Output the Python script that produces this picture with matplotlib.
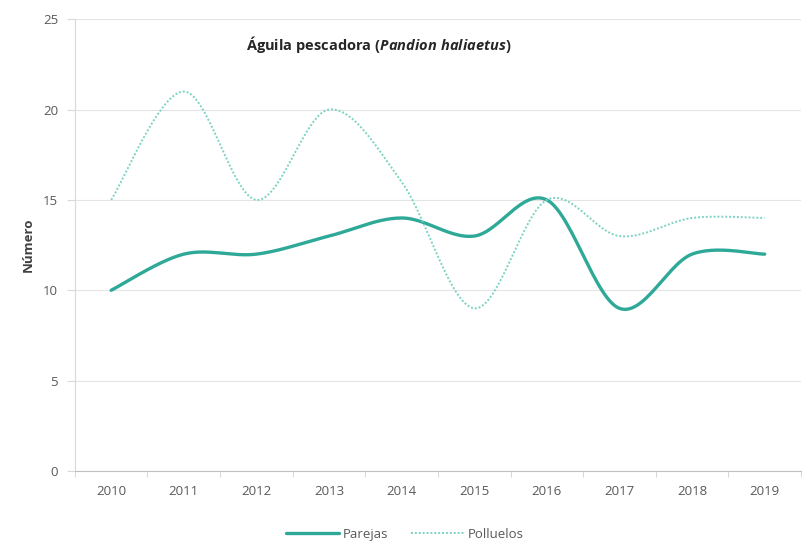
import matplotlib.pyplot as plt
import numpy as np

# Data
years = ['2010', '2011', '2012', '2013', '2014', '2015', '2016', '2017', '2018', '2019']
parejas = [10, 12, 12, 13, 14, 13, 15, 9, 12, 12]
polluelos = [15, 21, 15, 20, 16, 9, 15, 13, 14, 14]

plt.rcParams['font.family'] = ['Open Sans', 'DejaVu Sans']
plt.rcParams['mathtext.fontset'] = 'custom'
plt.rcParams['mathtext.bfit'] = 'Open Sans:bold:italic'
plt.rcParams['mathtext.it'] = 'Open Sans:italic'
plt.rcParams['mathtext.rm'] = 'Open Sans'


def smooth(xs, ys, n=30):
    # Excel-style smoothed line: cubic Bezier through the points (Catmull-Rom tangents)
    xs = np.asarray(xs, float)
    ys = np.asarray(ys, float)
    px = np.concatenate([[xs[0]], xs, [xs[-1]]])
    py = np.concatenate([[ys[0]], ys, [ys[-1]]])
    out_x, out_y = [], []
    t = np.linspace(0, 1, n)
    for i in range(1, len(px) - 2):
        p0 = np.array([px[i], py[i]])
        p3 = np.array([px[i + 1], py[i + 1]])
        c1 = p0 + (np.array([px[i + 1], py[i + 1]]) - np.array([px[i - 1], py[i - 1]])) / 6
        c2 = p3 - (np.array([px[i + 2], py[i + 2]]) - np.array([px[i], py[i]])) / 6
        b = ((1 - t) ** 3)[:, None] * p0 + (3 * (1 - t) ** 2 * t)[:, None] * c1 \
            + (3 * (1 - t) * t ** 2)[:, None] * c2 + (t ** 3)[:, None] * p3
        out_x.extend(b[:, 0])
        out_y.extend(b[:, 1])
    return out_x, out_y


fig = plt.figure(figsize=(8.05, 5.48), dpi=100)
ax = fig.add_axes([0.093, 0.1405, 0.902, 0.8245])

x = np.arange(len(years))
sx, sy = smooth(x, parejas)
ax.plot(sx, sy, color='#2ea997', lw=2.4, label='Parejas', solid_capstyle='round')
sx, sy = smooth(x, polluelos)
ax.plot(sx, sy, color='#7dd3c3', lw=1.4, ls=(0, (1, 1)), label='Polluelos')

ax.set_xlim(-0.5, len(years) - 0.5)
ax.set_ylim(0, 25)
ax.set_yticks(range(0, 26, 5))
ax.set_xticks(x)
ax.set_xticklabels(years)
ax.set_xticks(np.arange(-0.5, len(years), 1), minor=True)
ax.tick_params(axis='x', which='major', length=0, pad=10)
ax.tick_params(axis='x', which='minor', length=4, color='#d0d0d0')
ax.tick_params(axis='y', length=6, color='#d9d9d9', pad=6)
ax.tick_params(labelsize=9.5, labelcolor='#595959')

ax.grid(axis='y', color='#e4e4e4', lw=0.8)
ax.set_axisbelow(True)
for s in ['top', 'right']:
    ax.spines[s].set_visible(False)
ax.spines['left'].set_color('#d9d9d9')
ax.spines['bottom'].set_color('#bfbfbf')

ax.set_ylabel('Número', fontsize=9.5, fontweight='bold', color='#404040', labelpad=6)
ax.text(0.418, 0.945, r'Águila pescadora ($\mathbfit{Pandion\ haliaetus}$)',
        transform=ax.transAxes, ha='center', va='center',
        fontsize=10.5, fontweight='bold', color='#262626')

fig.legend(loc='lower center', bbox_to_anchor=(0.503, -0.008), ncol=2, frameon=False,
           fontsize=9.5, labelcolor='#595959', handlelength=4.0, handletextpad=0.3,
           columnspacing=1.7)

fig.savefig('out.png', dpi=100)
